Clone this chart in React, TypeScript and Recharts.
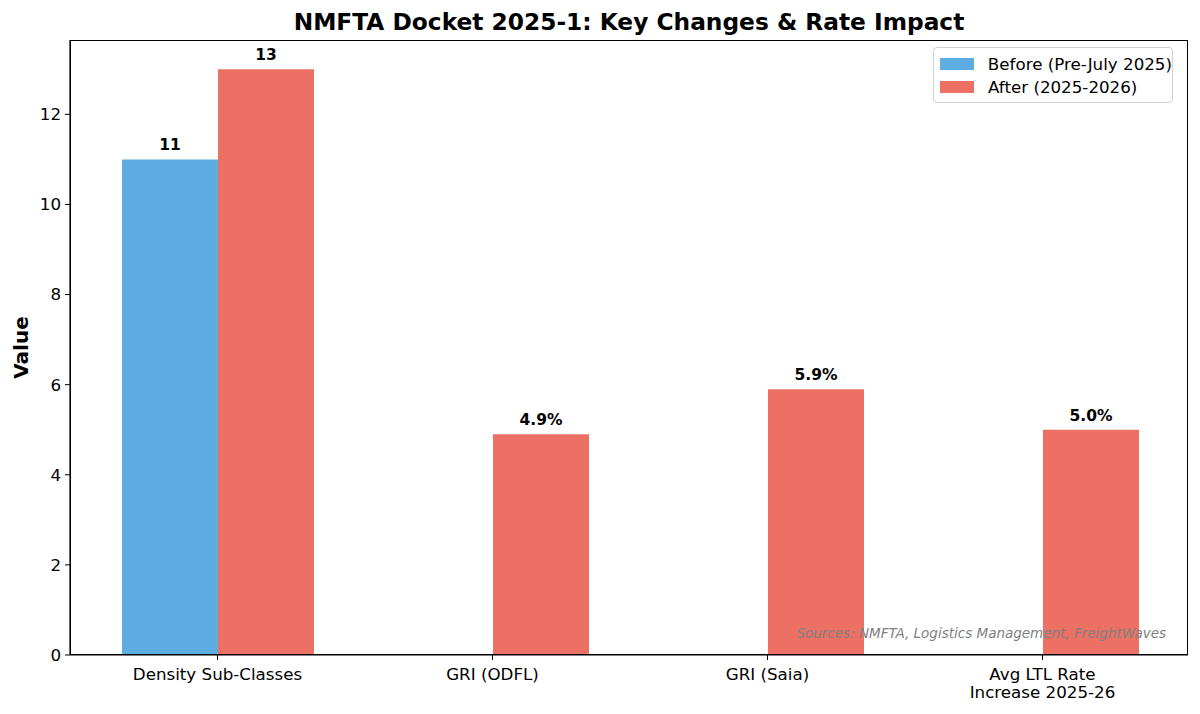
import React from 'react';
import { BarChart, Bar, XAxis, YAxis, Legend, LabelList } from 'recharts';

const categories = ['Density Sub-Classes', 'GRI (ODFL)', 'GRI (Saia)', 'Avg LTL Rate\nIncrease 2025-26'];
const beforeValues = [11, 0, 0, 0];
const afterValues = [13, 4.9, 5.9, 5.0];
const yTicks = [0, 2, 4, 6, 8, 10, 12];

const BLUE = '#5DADE2';
const RED = '#EC7063';
const FONT = '"DejaVu Sans", sans-serif';

const data = categories.map((name, i) => ({
  name,
  before: beforeValues[i],
  after: afterValues[i],
}));

function fmt(v: number, i: number) {
  return i === 0 ? String(v) : `${v.toFixed(1)}%`;
}

function BarLabel(props: any) {
  const { x, y, width, value, index } = props;
  if (!value) return null;
  return (
    <text
      x={x + width / 2}
      y={y - 9}
      textAnchor="middle"
      fontFamily={FONT}
      fontWeight="bold"
      fontSize={15.5}
      fill="#000"
    >
      {fmt(value, index)}
    </text>
  );
}

function XTick({ x, y, payload }: any) {
  const lines = String(payload.value).split('\n');
  return (
    <g>
      {lines.map((line, i) => (
        <text
          key={i}
          x={x}
          y={y + 18 + i * 18}
          textAnchor="middle"
          fontFamily={FONT}
          fontSize={16.7}
          fill="#000"
        >
          {line}
        </text>
      ))}
    </g>
  );
}

function YLabel({ viewBox }: any) {
  const cx = 21;
  const cy = viewBox.y + viewBox.height / 2;
  return (
    <text
      x={cx}
      y={cy}
      transform={`rotate(-90 ${cx} ${cy})`}
      textAnchor="middle"
      dominantBaseline="central"
      fontFamily={FONT}
      fontWeight="bold"
      fontSize={20}
      fill="#000"
    >
      Value
    </text>
  );
}

function LegendBox() {
  const items = [
    { label: 'Before (Pre-July 2025)', color: BLUE },
    { label: 'After (2025-2026)', color: RED },
  ];
  return (
    <div
      style={{
        border: '1px solid #d0d0d0',
        borderRadius: 4,
        background: 'rgba(255,255,255,0.8)',
        padding: '4px 0 4px 6px',
        fontFamily: FONT,
        fontSize: 16.7,
        width: 240,
        boxSizing: 'border-box',
      }}
    >
      {items.map((it) => (
        <div key={it.label} style={{ display: 'flex', alignItems: 'center', height: 23 }}>
          <span style={{ display: 'inline-block', width: 34, height: 12, background: it.color, marginRight: 14 }} />
          <span style={{ whiteSpace: 'nowrap' }}>{it.label}</span>
        </div>
      ))}
    </div>
  );
}

export default function App() {
  return (
    <div style={{ position: 'absolute', left: 0, top: 0, width: 1200, height: 714, background: '#fff' }}>
      <div
        style={{
          position: 'absolute',
          left: 70,
          width: 1118,
          top: 7,
          textAlign: 'center',
          fontFamily: FONT,
          fontWeight: 'bold',
          fontSize: 23.3,
          lineHeight: '30px',
        }}
      >
        NMFTA Docket 2025-1: Key Changes &amp; Rate Impact
      </div>
      <BarChart
        width={1200}
        height={714}
        data={data}
        margin={{ top: 40, right: 12, bottom: 0, left: 0 }}
        barGap={0}
        barSize={96}
      >
        <XAxis
          dataKey="name"
          tick={<XTick />}
          tickSize={5}
          interval={0}
          height={59}
          padding={{ left: 10, right: 8 }}
          axisLine={{ stroke: '#000', strokeWidth: 1.2 }}
          tickLine={{ stroke: '#000' }}
        />
        <YAxis
          domain={[0, 13.65]}
          ticks={yTicks}
          width={70}
          tickSize={5}
          tickMargin={4}
          tick={{ fontFamily: FONT, fontSize: 16.7, fill: '#000' }}
          axisLine={{ stroke: '#000', strokeWidth: 1.2 }}
          tickLine={{ stroke: '#000' }}
          label={<YLabel />}
        />
        <Legend
          layout="vertical"
          align="center"
          verticalAlign="middle"
          wrapperStyle={{ top: 47, left: 933 }}
          content={<LegendBox />}
        />
        <Bar dataKey="before" name="Before (Pre-July 2025)" fill={BLUE} isAnimationActive={false}>
          <LabelList dataKey="before" content={<BarLabel />} />
        </Bar>
        <Bar dataKey="after" name="After (2025-2026)" fill={RED} isAnimationActive={false}>
          <LabelList dataKey="after" content={<BarLabel />} />
        </Bar>
      </BarChart>
      <div
        style={{
          position: 'absolute',
          left: 70,
          top: 40,
          width: 1118,
          height: 615,
          border: '1.2px solid #000',
          boxSizing: 'border-box',
          pointerEvents: 'none',
        }}
      />
      <div
        style={{
          position: 'absolute',
          right: 34,
          top: 625,
          fontFamily: FONT,
          fontStyle: 'italic',
          fontSize: 13.5,
          color: '#808080',
          whiteSpace: 'nowrap',
        }}
      >
        Sources: NMFTA, Logistics Management, FreightWaves
      </div>
    </div>
  );
}
